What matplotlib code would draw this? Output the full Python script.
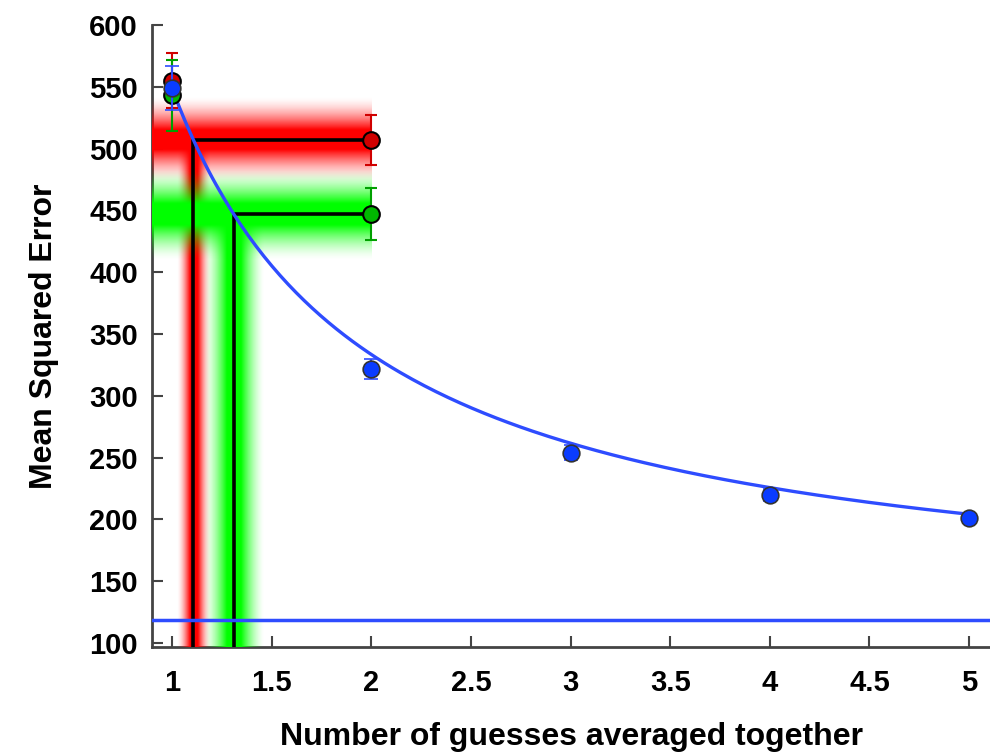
import matplotlib
matplotlib.use("Agg")
import matplotlib.pyplot as plt
import numpy as np

plt.rcParams["font.family"] = ["Liberation Sans", "DejaVu Sans"]
plt.rcParams["font.weight"] = "bold"

# 평균 오차 (파란 점)
n_guesses = [1, 2, 3, 4, 5]
mse_mean = [549, 322, 254, 220, 201]
mse_err = [18, 8, 6, 5, 4]

# 빨강/초록 조건 (x=1, x=2)
red_x = [1, 2]
red_y = [555, 507]
red_err = [22, 20]
green_x = [1, 2]
green_y = [543, 447]
green_err = [29, 21]

# 피팅 곡선 a + b/x, 점근선
fit_a = 118
fit_b = 431
asymptote = 119

# 밴드 폭
red_band_h = 35
green_band_h = 38
red_band_w = 0.085
green_band_w = 0.155

XLIM = (0.9, 5.105)
YLIM = (96.8, 600)


def band_rgba(color, n, horizontal):
    d = np.linspace(-1, 1, n)
    alpha = np.clip(1.3 * (1 - np.abs(d)), 0, 1) ** 1.6
    img = np.zeros((n, 1, 4)) if horizontal else np.zeros((1, n, 4))
    img[..., 0], img[..., 1], img[..., 2] = color
    img[..., 3] = alpha.reshape(img.shape[:2])
    return img


def cross_x(y):
    return fit_b / (y - fit_a)


fig = plt.figure(figsize=(9.9, 7.52), dpi=100)
ax = fig.add_axes([152 / 990, 105 / 752, 838 / 990, (647 - 25) / 752])
ax.set_xlim(*XLIM)
ax.set_ylim(*YLIM)

rx = cross_x(red_y[1])
gx = cross_x(green_y[1])

# 세로 밴드
ax.imshow(band_rgba((1, 0, 0), 101, False), extent=[rx - red_band_w, rx + red_band_w, YLIM[0], red_y[1]],
          aspect="auto", interpolation="bilinear", zorder=3)
ax.imshow(band_rgba((0, 1, 0), 101, False), extent=[gx - green_band_w, gx + green_band_w, YLIM[0], green_y[1]],
          aspect="auto", interpolation="bilinear", zorder=3)
# 가로 밴드
ax.imshow(band_rgba((1, 0, 0), 101, True),
          extent=[XLIM[0], 2, red_y[1] - red_band_h, red_y[1] + red_band_h],
          aspect="auto", interpolation="bilinear", zorder=4)
ax.imshow(band_rgba((0, 1, 0), 101, True),
          extent=[XLIM[0], 2, green_y[1] - green_band_h, green_y[1] + green_band_h],
          aspect="auto", interpolation="bilinear", zorder=4)

# 검은 선
ax.plot([rx, rx, 2], [YLIM[0], red_y[1], red_y[1]], color="black", lw=2.6, zorder=5)
ax.plot([gx, gx, 2], [YLIM[0], green_y[1], green_y[1]], color="black", lw=2.6, zorder=5)

# 점근선, 피팅 곡선
ax.axhline(asymptote, color="#2e4cff", lw=2.5, zorder=6)
xs = np.linspace(1, 5, 200)
ax.plot(xs, fit_a + fit_b / xs, color="#2e4cff", lw=2.4, zorder=7)

ax.errorbar(red_x, red_y, yerr=red_err, fmt="o", color="#d00000", ecolor="#d00000",
            mec="black", mew=1.5, ms=12, capsize=4, elinewidth=1.5, capthick=1.5, zorder=8)
ax.errorbar(green_x, green_y, yerr=green_err, fmt="o", color="#00b800", ecolor="#00a000",
            mec="black", mew=1.5, ms=12, capsize=4, elinewidth=1.5, capthick=1.5, zorder=8)
ax.errorbar(n_guesses, mse_mean, yerr=mse_err, fmt="o", color="#0a3cff", ecolor="#2e4cff",
            mec="#333333", mew=1.2, ms=12, capsize=5, elinewidth=1.5, capthick=1.5, zorder=9)

for s in ["top", "right"]:
    ax.spines[s].set_visible(False)
ax.spines["left"].set_color("#444444")
ax.spines["bottom"].set_color("#444444")
ax.spines["left"].set_linewidth(2)
ax.spines["bottom"].set_linewidth(2)

ax.set_xticks([1, 1.5, 2, 2.5, 3, 3.5, 4, 4.5, 5])
ax.set_xticklabels(["1", "1.5", "2", "2.5", "3", "3.5", "4", "4.5", "5"])
ax.set_yticks(range(100, 601, 50))
ax.tick_params(direction="in", length=8, width=1.5, labelsize=21, color="#444444")
ax.tick_params(axis="y", pad=10)
ax.tick_params(axis="x", pad=16)
for lab in ax.get_xticklabels() + ax.get_yticklabels():
    lab.set_fontweight("bold")

ax.set_xlabel("Number of guesses averaged together", fontsize=23, fontweight="bold", labelpad=18)
ax.set_ylabel("Mean Squared Error", fontsize=23, fontweight="bold", labelpad=22)

fig.savefig("out.png", dpi=100)
